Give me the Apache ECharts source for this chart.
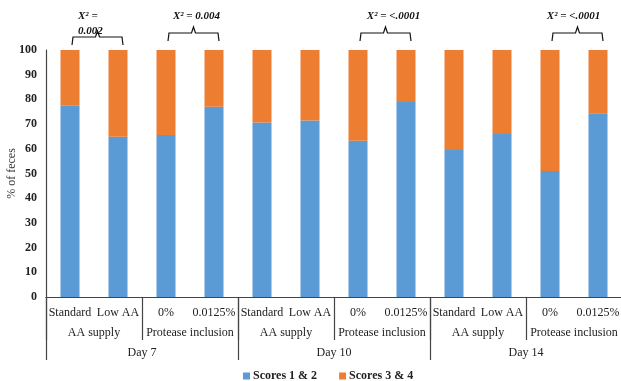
<!DOCTYPE html>
<html>
<head>
<meta charset="utf-8">
<script src="https://cdn.jsdelivr.net/npm/echarts@6/dist/echarts.min.js"></script>
<style>html,body{margin:0;padding:0;background:#fff}#c{width:621px;height:381px}</style>
</head>
<body>
<div id="c"></div>
<script>
var categories = ['Standard','Low AA','0%','0.0125%','Standard','Low AA','0%','0.0125%','Standard','Low AA','0%','0.0125%'];
var groups = ['AA supply','Protease inclusion','AA supply','Protease inclusion','AA supply','Protease inclusion'];
var days = ['Day 7','Day 10','Day 14'];
var scores12 = [77.4,64.9,65.6,77.0,70.6,71.5,63.3,78.9,59.5,66.0,51.0,74.4];
var scores34 = [22.6,35.1,34.4,23.0,29.4,28.5,36.7,21.1,40.5,34.0,49.0,25.6];
var yTicks = [0,10,20,30,40,50,60,70,80,90,100];
var annotPairs = [[0,1],[2,3],[6,7],[10,11]];
var annotTexts = ['X\u00B2 =\n0.002','X\u00B2 = 0.004','X\u00B2 = <.0001','X\u00B2 = <.0001'];

var FONT = '"Liberation Serif", "Times New Roman", serif';
var chart = echarts.init(document.getElementById('c'));
chart.setOption({
  animation: false,
  textStyle: {fontFamily: FONT},
  grid: {left: 46, top: 50, width: 576, bottom: 84, outerBoundsMode: 'none'},
  legend: {
    top: 365, left: 238, itemWidth: 7, itemHeight: 7, itemGap: 22,
    icon: 'rect',
    textStyle: {fontFamily: FONT, fontWeight: 'bold', fontSize: 12, color: '#222', padding: [0, 0, 0, -2]},
    data: ['Scores 1 & 2', 'Scores 3 & 4']
  },
  xAxis: [
    {type: 'category', data: categories, gridIndex: 0,
     axisLine: {show: true, lineStyle: {color: '#444', width: 1.2}},
     axisTick: {show: false},
     axisLabel: {interval: 0, margin: 10, fontFamily: FONT, fontSize: 12, color: '#222'}},
    {type: 'category', data: groups, gridIndex: 0, position: 'bottom',
     axisLine: {show: false},
     axisTick: {show: true, length: 43, lineStyle: {color: '#444', width: 1.2}},
     axisLabel: {interval: 0, margin: 30, fontFamily: FONT, fontSize: 12, color: '#222'}},
    {type: 'category', data: days, gridIndex: 0, position: 'bottom',
     axisLine: {show: false},
     axisTick: {show: true, length: 63, lineStyle: {color: '#444', width: 1.2}},
     axisLabel: {interval: 0, margin: 50, fontFamily: FONT, fontSize: 12, color: '#222'}}
  ],
  yAxis: {
    type: 'value', min: 0, max: 100, interval: 10,
    name: '% of feces', nameLocation: 'middle', nameGap: 28, nameRotate: 90,
    nameMoveOverlap: false,
    nameTextStyle: {fontFamily: FONT, fontSize: 12, color: '#333'},
    axisLine: {show: true, lineStyle: {color: '#444', width: 1.2}},
    axisTick: {show: false},
    splitLine: {show: false},
    axisLabel: {margin: 9, fontFamily: FONT, fontWeight: 'bold', fontSize: 12, color: '#222',
      formatter: function (v) { return yTicks.indexOf(v) >= 0 ? String(v) : ''; }}
  },
  series: [
    {name: 'Scores 1 & 2', type: 'bar', stack: 's', data: scores12, barWidth: 19,
     itemStyle: {color: '#5B9BD5'}},
    {name: 'Scores 3 & 4', type: 'bar', stack: 's', data: scores34, barWidth: 19,
     itemStyle: {color: '#ED7D31'}}
  ]
});

var textShift = [0, 3, 8, -4];
var g = [];
annotPairs.forEach(function (p, i) {
  var x1 = chart.convertToPixel({xAxisIndex: 0}, p[0]) + 2;
  var x2 = chart.convertToPixel({xAxisIndex: 0}, p[1]) + 5;
  var xm = (x1 + x2) / 2;
  var two = annotTexts[i].indexOf('\n') >= 0;
  var yH = two ? 37 : 33;
  var yEnd = yH + 8;
  var yTop = yH - 6;
  g.push({type: 'polyline', silent: true,
    shape: {points: [[x1, yEnd], [x1 + 1, yH], [xm - 2, yH], [xm, yTop], [xm + 2, yH], [x2 - 1, yH], [x2, yEnd]]},
    style: {stroke: '#111', lineWidth: 1.2, fill: null}});
  g.push({type: 'text', silent: true,
    x: two ? x1 + 6 : xm + textShift[i], y: two ? 24 : 16,
    style: {text: annotTexts[i], fontFamily: FONT, fontStyle: 'italic', fontWeight: 'bold',
      fontSize: 11, fill: '#111', align: two ? 'left' : 'center', verticalAlign: 'middle', lineHeight: 15}});
});
chart.setOption({graphic: g});
</script>
</body>
</html>
